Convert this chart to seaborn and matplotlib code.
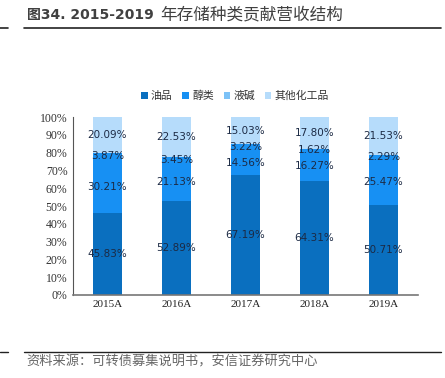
import numpy as np
import pandas as pd
import matplotlib
matplotlib.use("Agg")
import matplotlib.pyplot as plt
from matplotlib.patches import Patch
from matplotlib.lines import Line2D
import seaborn as sns

# 数据
years = ["2015A", "2016A", "2017A", "2018A", "2019A"]
oil = [45.83, 52.89, 67.19, 64.31, 50.71]        # 油品
alcohol = [30.21, 21.13, 14.56, 16.27, 25.47]    # 醇类
caustic = [3.87, 3.45, 3.22, 1.62, 2.29]         # 液碱
other = [20.09, 22.53, 15.03, 17.80, 21.53]      # 其他化工品
series_names = ["油品", "醇类", "液碱", "其他化工品"]

sns.set_style("white")
plt.rcParams["font.family"] = ["Noto Sans CJK SC", "DejaVu Sans"]

bar_colors = ["#0a6fbf", "#1790f3", "#1a92f3", "#b6dcfb"]
legend_colors = ["#0a6fbf", "#1790f3", "#7cc2f7", "#b6dcfb"]

df = pd.DataFrame({"year": years, "油品": oil, "醇类": alcohol,
                   "液碱": caustic, "其他化工品": other})

fig = plt.figure(figsize=(4.45, 3.78), dpi=100)
ax = fig.add_axes([0.164, 0.22, 0.775, 0.47])

bottom = np.zeros(len(years))
for name, col in zip(series_names, bar_colors):
    vals = df[name].values
    sns.barplot(x=df["year"], y=vals, bottom=bottom, color=col, width=0.42,
                saturation=1, ax=ax, edgecolor="none", linewidth=0)
    for i, v in enumerate(vals):
        ax.text(i, bottom[i] + v / 2, f"{v:.2f}%", ha="center", va="center",
                fontsize=7.5, color="#1c2a44", family="DejaVu Sans")
    bottom = bottom + vals

ax.set_ylim(0, 100)
ax.set_xlim(-0.5, 4.5)
ax.set_yticks(range(0, 101, 10))
ax.set_yticklabels([f"{t}%" for t in range(0, 101, 10)], family="Liberation Serif",
                   fontsize=8.5, color="#333333")
ax.set_xticks(range(len(years)))
ax.set_xticklabels(years, family="Liberation Serif", fontsize=8, color="#222222")
ax.tick_params(axis="both", length=0, pad=4)
ax.set_xlabel("")
ax.set_ylabel("")
for s in ["top", "right"]:
    ax.spines[s].set_visible(False)
ax.spines["left"].set_color("#555555")
ax.spines["bottom"].set_color("#777777")
ax.spines["bottom"].set_linewidth(1.2)

handles = [Patch(facecolor=c, edgecolor="none") for c in legend_colors]
fig.legend(handles, series_names, loc="center", bbox_to_anchor=(0.528, 0.746),
           ncol=4, frameon=False, fontsize=7.8, handlelength=0.6, handleheight=0.6,
           handletextpad=0.3, columnspacing=0.9, labelcolor="#333333")

# 标题与分隔线
fig.text(0.06, 0.96, "图34. 2015-2019", fontsize=10, fontweight="bold",
         color="#404040", va="center", family=["DejaVu Sans", "Noto Sans CJK SC"])
fig.text(0.36, 0.96, "年存储种类贡献营收结构", fontsize=12, color="#404040",
         va="center")
fig.add_artist(Line2D([0.054, 0.99], [0.925, 0.925], color="#222222", lw=1.2))
fig.add_artist(Line2D([0.0, 0.017], [0.925, 0.925], color="#222222", lw=1.2))

fig.add_artist(Line2D([0.054, 0.99], [0.068, 0.068], color="#222222", lw=1.0))
fig.add_artist(Line2D([0.0, 0.017], [0.068, 0.068], color="#222222", lw=1.0))
fig.text(0.06, 0.043, "资料来源：可转债募集说明书，安信证券研究中心", fontsize=9.5,
         color="#666666", va="center", style="italic")

fig.savefig("out.png", dpi=100)
